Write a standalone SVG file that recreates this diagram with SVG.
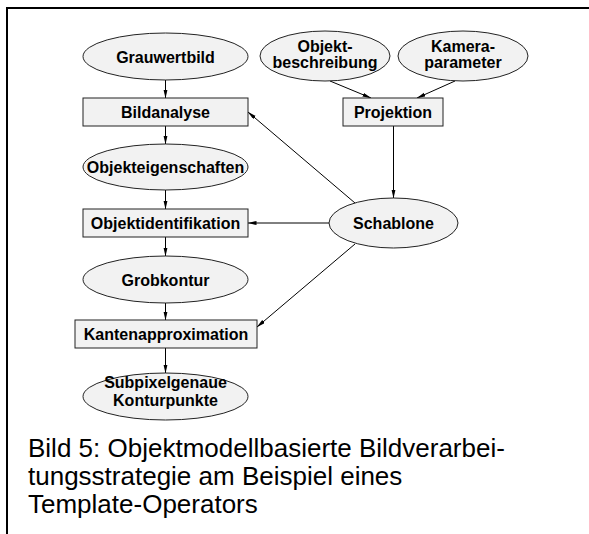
<svg xmlns="http://www.w3.org/2000/svg" width="589" height="534" viewBox="0 0 589 534">
<style>
.n{fill:#f2f2f2;stroke:#222;stroke-width:1}
.t{font-family:"Liberation Sans",Arial,sans-serif;font-weight:bold;font-size:16px;fill:#000;text-anchor:middle}
.c{stroke:#000;stroke-width:1;fill:none;marker-end:url(#ah)}
.cap{font-family:"Liberation Sans",Arial,sans-serif;font-size:26px;fill:#000}
</style>
<defs>
<marker id="ah" markerUnits="userSpaceOnUse" markerWidth="9" markerHeight="5" refX="8.5" refY="2" orient="auto">
<path d="M0,0 L9,2 L0,4 z" fill="#000"/>
</marker>
</defs>
<rect width="589" height="534" fill="#fff"/>
<path d="M7,534 V8 H589" fill="none" stroke="#000" stroke-width="2"/>
<g id="connectors">
<line class="c" x1="165.5" y1="80" x2="165.5" y2="98"/>
<line class="c" x1="165.5" y1="126" x2="165.5" y2="144"/>
<line class="c" x1="165.5" y1="190" x2="165.5" y2="209"/>
<line class="c" x1="165.5" y1="237" x2="165.5" y2="256"/>
<line class="c" x1="165.5" y1="303" x2="165.5" y2="320"/>
<line class="c" x1="165.5" y1="348" x2="165.5" y2="373"/>
<line class="c" x1="330" y1="81" x2="371" y2="98"/>
<line class="c" x1="455" y1="81" x2="417" y2="98"/>
<line class="c" x1="393.5" y1="126" x2="393.5" y2="198"/>
<line class="c" x1="355" y1="203" x2="248" y2="112"/>
<line class="c" x1="329" y1="223" x2="248" y2="223"/>
<line class="c" x1="355" y1="244" x2="257" y2="327"/>
</g>
<g id="grauwertbild"><ellipse class="n" cx="165.5" cy="56.5" rx="82.5" ry="23.5"/><text class="t" x="165.5" y="62.5">Grauwertbild</text></g>
<g id="bildanalyse"><rect class="n" x="83" y="98" width="165" height="28"/><text class="t" x="165.5" y="118">Bildanalyse</text></g>
<g id="objekteigenschaften"><ellipse class="n" cx="165.5" cy="167" rx="82.5" ry="23"/><text class="t" x="165.5" y="173">Objekteigenschaften</text></g>
<g id="objektidentifikation"><rect class="n" x="83" y="209" width="165" height="28"/><text class="t" x="165.5" y="229">Objektidentifikation</text></g>
<g id="grobkontur"><ellipse class="n" cx="165.5" cy="279.5" rx="82.5" ry="23.5"/><text class="t" x="165.5" y="285.5">Grobkontur</text></g>
<g id="kantenapproximation"><rect class="n" x="75" y="320" width="182" height="28"/><text class="t" x="166" y="340">Kantenapproximation</text></g>
<g id="subpixel"><ellipse class="n" cx="165.5" cy="396.5" rx="82.5" ry="23.5"/><text class="t" x="165.5" y="388">Subpixelgenaue</text><text class="t" x="165.5" y="405.5">Konturpunkte</text></g>
<g id="objektbeschreibung"><ellipse class="n" cx="325" cy="56" rx="65" ry="25"/><text class="t" x="325" y="51.5">Objekt-</text><text class="t" x="325" y="68">beschreibung</text></g>
<g id="kameraparameter"><ellipse class="n" cx="463" cy="56" rx="65" ry="25"/><text class="t" x="463" y="51.5">Kamera-</text><text class="t" x="463" y="68">parameter</text></g>
<g id="projektion"><rect class="n" x="343" y="98" width="100" height="28"/><text class="t" x="393" y="118">Projektion</text></g>
<g id="schablone"><ellipse class="n" cx="393.5" cy="223" rx="64.5" ry="25"/><text class="t" x="393.5" y="229">Schablone</text></g>
<g id="caption">
<text class="cap" x="28" y="457">Bild 5: Objektmodellbasierte Bildverarbei-</text>
<text class="cap" x="28" y="485">tungsstrategie am Beispiel eines</text>
<text class="cap" x="28" y="513">Template-Operators</text>
</g>
</svg>
